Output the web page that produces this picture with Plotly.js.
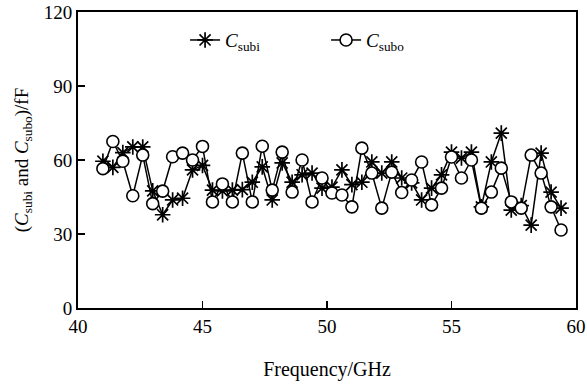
<!DOCTYPE html>
<html>
<head>
<meta charset="utf-8">
<script src="https://cdn.plot.ly/plotly-3.0.1.min.js"></script>
<style>html,body{margin:0;padding:0;background:#fff;}#chart{width:587px;height:387px;}</style>
</head>
<body>
<div id="chart"></div>
<script>
// Frequency (GHz)
const freq = [41.0,41.4,41.8,42.2,42.6,43.0,43.4,43.8,44.2,44.6,45.0,45.4,45.8,46.2,46.6,47.0,47.4,47.8,48.2,48.6,49.0,49.4,49.8,50.2,50.6,51.0,51.4,51.8,52.2,52.6,53.0,53.4,53.8,54.2,54.6,55.0,55.4,55.8,56.2,56.6,57.0,57.4,57.8,58.2,58.6,59.0,59.4];
// C_subi (fF)
const cSubi = [59.5,57,63,65.3,65.3,47.5,37.8,43.8,44.5,56,57.8,47.8,47.5,47.8,48,51,57.2,43.8,58.8,51,54,54.7,48.6,49,56,50,51,59.2,54.7,59.2,52.7,50.7,43.8,48.6,54,63.2,60.8,63.2,41,59.2,70.9,39.7,41.5,33.6,62.8,47,40.5];
// C_subo (fF)
const cSubo = [56.5,67.5,59.5,45.5,62,42.3,47.4,61.3,62.8,60,65.5,43,50.3,43,62.8,43,65.6,47.8,63.2,47,60,43,52.7,46.6,45.8,41,64.8,54.7,40.5,55.1,46.8,51.9,59.2,41.8,48.6,61.2,52.7,60,40.5,47,56.7,43,40.5,62,54.7,41,31.6];
const seriesNames = ['<i>C</i><sub>subi</sub>', '<i>C</i><sub>subo</sub>'];
const xTicks = [40,45,50,55,60];
const yTicks = [0,30,60,90,120];

const FONT = 'Liberation Serif, Times New Roman, serif';

const traces = [
  {
    x: freq, y: cSubi, name: seriesNames[0], type: 'scatter', mode: 'lines+markers',
    line: {color: '#000', width: 1.5},
    marker: {symbol: 'asterisk-open', size: 13, color: '#000', line: {color: '#000', width: 1.7}}
  },
  {
    x: freq, y: cSubo, name: seriesNames[1], type: 'scatter', mode: 'lines+markers',
    line: {color: '#000', width: 1.5},
    marker: {symbol: 'circle', size: 12, color: '#fff', line: {color: '#000', width: 1.6}}
  }
];

const axisCommon = {
  showline: true, mirror: true, linecolor: '#000', linewidth: 2,
  ticks: 'inside', ticklen: 7, tickwidth: 1.6, tickcolor: '#000',
  showgrid: false, zeroline: false,
  tickfont: {family: FONT, size: 19, color: '#000'}
};

const layout = {
  width: 587, height: 387,
  margin: {l: 78, r: 11, t: 12, b: 79},
  paper_bgcolor: '#fff', plot_bgcolor: '#fff',
  font: {family: FONT, color: '#000'},
  showlegend: true,
  legend: {
    orientation: 'h', x: 0.215, y: 0.905, xanchor: 'left', yanchor: 'middle',
    bgcolor: 'rgba(0,0,0,0)', font: {family: FONT, size: 19, color: '#000'},
    entrywidth: 96, entrywidthmode: 'pixels'
  },
  xaxis: Object.assign({}, axisCommon, {
    range: [40, 60], tickvals: xTicks, ticktext: xTicks.map(String),
    title: {text: 'Frequency/GHz', font: {family: FONT, size: 20, color: '#000'}, standoff: 26}
  }),
  yaxis: Object.assign({}, axisCommon, {
    range: [0, 120], tickvals: yTicks, ticktext: yTicks.map(String),
    title: {text: '(<i>C</i><sub>subi</sub> and <i>C</i><sub>subo</sub>)/fF', font: {family: FONT, size: 19, color: '#000'}, standoff: 10}
  })
};

Plotly.newPlot('chart', traces, layout, {displayModeBar: false, staticPlot: true});
</script>
</body>
</html>
